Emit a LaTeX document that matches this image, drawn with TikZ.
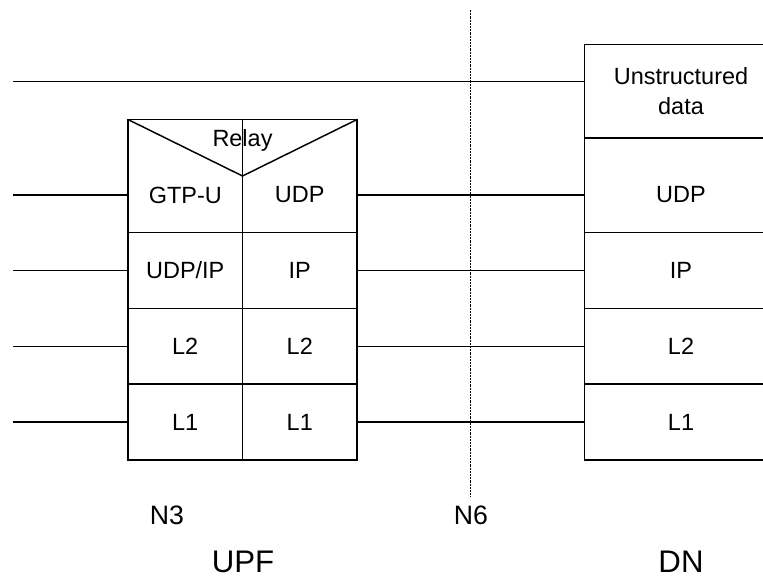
\documentclass[tikz,border=0pt]{standalone}
\usepackage{fontspec}
\setmainfont{Liberation Sans}
\begin{document}
\begin{tikzpicture}[x=0.75pt,y=0.75pt,yscale=-1]
\tikzset{
  cell/.style={draw, line width=1.1pt, outer sep=0pt, inner sep=0pt, minimum width=85.9pt, minimum height=56.8pt, font=\fontsize{17.6}{21}\selectfont},
  dncell/.style={cell, draw=none, minimum width=145pt},
  txt/.style={inner sep=0pt, font=\fontsize{17.6}{22.5}\selectfont, align=center},
  refpt/.style={inner sep=0pt, font=\fontsize{20}{24}\selectfont},
  entity/.style={inner sep=0pt, font=\fontsize{23.4}{28}\selectfont},
  link/.style={line width=1.1pt},
  frame/.style={line width=1.1pt},
}
\useasboundingbox (0,0) rectangle (763,576);
\clip (0,0) rectangle (763,576);

% UPF stack
\node[cell, minimum height=84.75pt] (relayA) at (185.25,176) {};
\node[cell, minimum height=84.75pt] (relayB) at (299.75,176) {};
\draw[frame] (relayA.north west) -- (relayA.east) -- (relayB.north east);
\node[txt, anchor=base] (relay) at (242.5,146) {Relay};
\node[txt] (gtpu) at (185.25,195) {GTP-U};
\node[txt] (udpB) at (299.75,195) {UDP};
\node[cell] (udpipA) at (185.25,270.5) {UDP/IP};
\node[cell] (ipB) at (299.75,270.5) {IP};
\node[cell] (ltwoA) at (185.25,346.25) {L2};
\node[cell] (ltwoB) at (299.75,346.25) {L2};
\node[cell] (loneA) at (185.25,422) {L1};
\node[cell] (loneB) at (299.75,422) {L1};

% DN stack (open to the right edge)
\node[dncell, minimum height=70.3pt] (dnData) at (681,91.2) {};
\node[dncell, minimum height=70.9pt] (dnUdp) at (681,185.3) {};
\node[txt] (data) at (681,91.5) {Unstructured\\data};
\node[txt] (udpDn) at (681,195) {UDP};
\node[dncell] (dnIp) at (681,270.5) {IP};
\node[dncell] (dnLtwo) at (681,346.25) {L2};
\node[dncell] (dnLone) at (681,422) {L1};
\draw[frame] (dnData.north east) -- (dnData.north west) -- (dnLone.south west) -- (dnLone.south east);
\foreach \n in {dnData,dnUdp,dnIp,dnLtwo}
  \draw[frame] (\n.south west) -- (\n.south east);

% free ends on the left
\coordinate (topL) at (13,81.7);
\coordinate (inA) at (13,195);
\coordinate (inB) at (13,270.5);
\coordinate (inC) at (13,346.25);
\coordinate (inD) at (13,422);

% connectors
\draw[link] (topL) -- (topL -| dnData.west);
\draw[link] (inA) -- (inA -| relayA.west);
\draw[link] (inB) -- (udpipA.west);
\draw[link] (inC) -- (ltwoA.west);
\draw[link] (inD) -- (loneA.west);
\draw[link] (relayB.east |- udpB) -- (dnUdp.west |- udpDn);
\draw[link] (ipB.east) -- (dnIp.west);
\draw[link] (ltwoB.east) -- (dnLtwo.west);
\draw[link] (loneB.east) -- (dnLone.west);

% reference points
\node[refpt] (nthree) at (167,515) {N3};
\node[refpt] (nsix) at (471,515) {N6};
\coordinate (sepTop) at (470.5,10);
\draw[line width=1.3pt, dash pattern=on 1.6pt off 0.8pt] (sepTop) -- ([yshift=-6pt]sepTop |- nsix.north);

% entities
\node[entity, anchor=base] (upf) at (243,572) {UPF};
\node[entity, anchor=base] (dn) at (681,572) {DN};
\end{tikzpicture}
\end{document}
